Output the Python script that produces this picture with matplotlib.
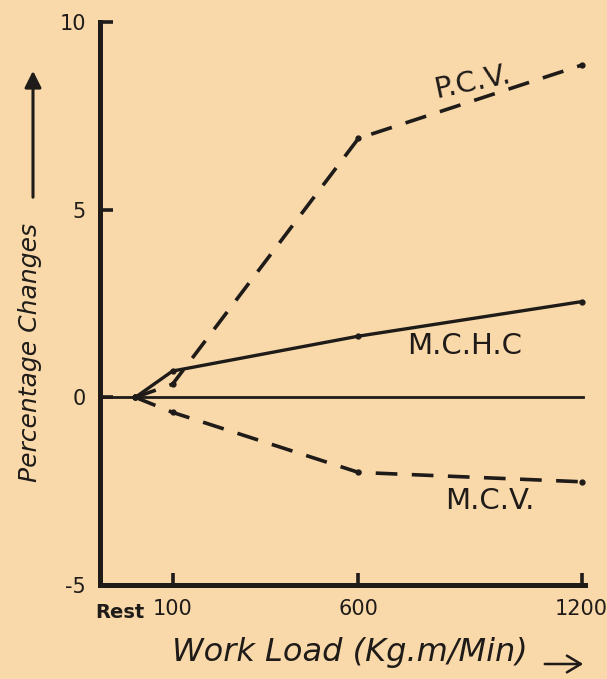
import matplotlib
matplotlib.use("Agg")
import matplotlib.pyplot as plt

# Data
work_load = [0, 100, 600, 1200]          # Rest = 0
pcv = [0.0, 0.35, 6.9, 8.85]
mchc = [0.0, 0.7, 1.63, 2.55]
mcv = [0.0, -0.4, -2.0, -2.25]
x_tick_vals = [100, 600, 1200]
x_tick_labels = ["100", "600", "1200"]
y_tick_vals = [-5, 0, 5, 10]
y_tick_labels = ["-5", "0", "5", "10"]

BG = "#f9d9aa"
INK = "#1f1b19"

fig = plt.figure(figsize=(6.07, 6.79), dpi=100, facecolor=BG)
ax = fig.add_axes([100/607, 1-585/679, 485/607, (585-22)/679])
ax.set_facecolor(BG)
ax.set_xlim(-95, 1209)
ax.set_ylim(-5, 10)

for s in ["top", "right"]:
    ax.spines[s].set_visible(False)
for s in ["left", "bottom"]:
    ax.spines[s].set_linewidth(3.6)
    ax.spines[s].set_color(INK)

ax.axhline(0, color=INK, lw=2.0, xmax=0.995)

ax.plot(work_load, mchc, color=INK, lw=2.4, marker="o", ms=3.5)
ax.plot(work_load, pcv, color=INK, lw=2.6, ls=(0, (6, 4)), marker="o", ms=3.5)
ax.plot(work_load, mcv, color=INK, lw=2.6, ls=(0, (6, 4)), marker="o", ms=3.5)

ax.set_xticks(x_tick_vals)
ax.set_xticklabels(x_tick_labels)
ax.set_yticks(y_tick_vals)
ax.set_yticklabels(y_tick_labels)
ax.tick_params(axis="both", direction="in", length=9, width=2.6, colors=INK,
               labelsize=15, labelcolor=INK)
ax.tick_params(axis="x", pad=10)
ax.tick_params(axis="y", pad=10)

ax.annotate("Rest", xy=(0, -5), xycoords="data", xytext=(-11, -13),
            textcoords="offset points", ha="center", va="top",
            fontsize=14, fontweight="bold", color=INK)

ax.text(905, 8.4, "P.C.V.", fontsize=21, rotation=12, ha="center", va="center",
        color=INK)
ax.text(886, 1.36, "M.C.H.C", fontsize=21, ha="center", va="center", color=INK)
ax.text(953, -2.77, "M.C.V.", fontsize=21, ha="center", va="center", color=INK)

# Axis titles with arrows
fig.text(30/607, 1-352/679, "Percentage Changes", rotation=90, ha="center",
         va="center", fontsize=18, style="oblique", color=INK)
fig.add_artist(matplotlib.patches.FancyArrowPatch(
    (33/607, 1-200/679), (33/607, 1-68/679), transform=fig.transFigure,
    arrowstyle="-|>,head_length=5,head_width=2.5", lw=2.2, color=INK,
    mutation_scale=2))
fig.text(350/607, 1-652/679, "Work Load (Kg.m/Min)", ha="center", va="center",
         fontsize=23, style="oblique", color=INK)
fig.add_artist(matplotlib.patches.FancyArrowPatch(
    (542/607, 1-664/679), (586/607, 1-664/679), transform=fig.transFigure,
    arrowstyle="->,head_length=5,head_width=3", lw=1.8, color=INK,
    mutation_scale=2))

fig.savefig("out.png", dpi=100, facecolor=BG)
